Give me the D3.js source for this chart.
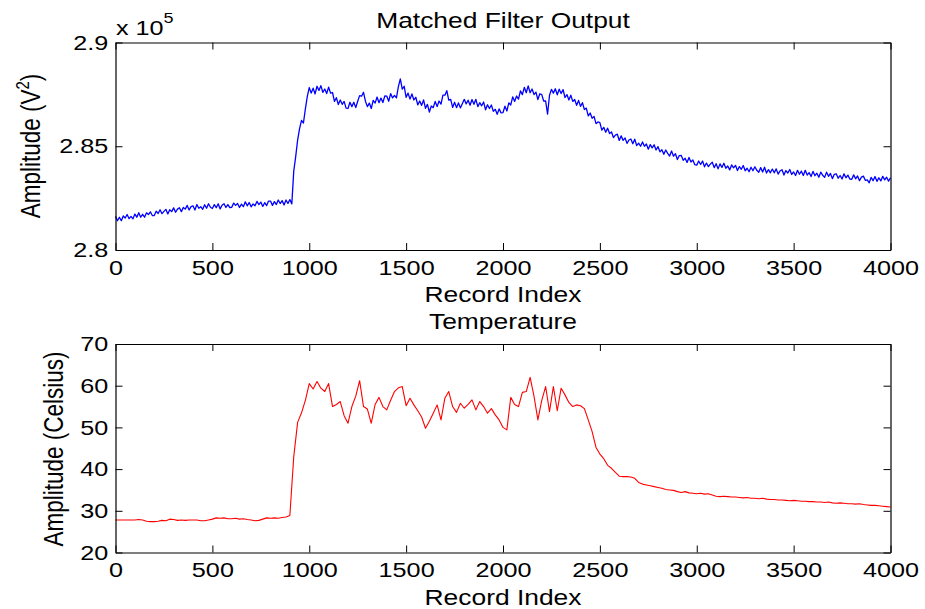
<!DOCTYPE html>
<html>
<head>
<meta charset="utf-8">
<script src="https://cdn.jsdelivr.net/npm/d3@7"></script>
<style>
  body { margin: 0; background: #fff; }
  svg text { font-family: "Liberation Sans", Arial, Helvetica, sans-serif; fill: #000; }
</style>
</head>
<body>
<div id="chart"></div>
<script>
// matched filter output (x 10^5), one value every 10 records
var filterStep = 10;
var filterStart = [
  2.8162, 2.8141, 2.8158, 2.8141, 2.8164, 2.8154, 2.8171, 2.8151, 2.8162, 2.8150, 2.8173, 2.8158, 2.8180, 2.8158, 2.8172, 2.8158, 2.8179, 2.8171, 2.8184, 2.8166,
  2.8166, 2.8187, 2.8176, 2.8194, 2.8175, 2.8186, 2.8196, 2.8174, 2.8194, 2.8185, 2.8203, 2.8182, 2.8197, 2.8204, 2.8185, 2.8205, 2.8197, 2.8215, 2.8193, 2.8209,
  2.8213, 2.8193, 2.8219, 2.8201, 2.8209, 2.8196, 2.8218, 2.8201, 2.8223, 2.8206, 2.8200, 2.8219, 2.8204, 2.8223, 2.8198, 2.8216, 2.8223, 2.8205, 2.8219, 2.8204,
  2.8206, 2.8226, 2.8215, 2.8224, 2.8205, 2.8221, 2.8209, 2.8232, 2.8213, 2.8229, 2.8208, 2.8222, 2.8213, 2.8234, 2.8219, 2.8231, 2.8210, 2.8228, 2.8214, 2.8236,
  2.8236, 2.8215, 2.8233, 2.8219, 2.8241, 2.8224, 2.8238, 2.8217, 2.8241, 2.8224, 2.8243, 2.8222, 2.8380, 2.8450, 2.8530, 2.8585, 2.8625, 2.8612, 2.8680, 2.8740
];
var filterPlateau = [
  2.8783, 2.8756, 2.8780, 2.8752, 2.8789, 2.8769, 2.8792, 2.8760, 2.8776, 2.8754, 2.8785, 2.8756, 2.8759, 2.8716, 2.8734, 2.8701, 2.8723, 2.8702, 2.8716, 2.8684,
  2.8682, 2.8712, 2.8691, 2.8712, 2.8686, 2.8717, 2.8744, 2.8741, 2.8760, 2.8717, 2.8691, 2.8708, 2.8682, 2.8721, 2.8708, 2.8737, 2.8710, 2.8732, 2.8711, 2.8743,
  2.8742, 2.8717, 2.8754, 2.8733, 2.8745, 2.8733, 2.8787, 2.8825, 2.8775, 2.8789, 2.8736, 2.8756, 2.8727, 2.8752, 2.8723, 2.8736, 2.8699, 2.8718, 2.8697, 2.8723,
  2.8683, 2.8702, 2.8665, 2.8694, 2.8686, 2.8716, 2.8691, 2.8718, 2.8703, 2.8746, 2.8746, 2.8768, 2.8722, 2.8726, 2.8687, 2.8712, 2.8686, 2.8709, 2.8685, 2.8705,
  2.8726, 2.8704, 2.8722, 2.8698, 2.8725, 2.8702, 2.8726, 2.8691, 2.8710, 2.8695, 2.8713, 2.8676, 2.8700, 2.8682, 2.8699, 2.8668, 2.8678, 2.8654, 2.8680, 2.8661,
  2.8662, 2.8693, 2.8670, 2.8709, 2.8699, 2.8738, 2.8716, 2.8742, 2.8727, 2.8767, 2.8749, 2.8784, 2.8758, 2.8791, 2.8758, 2.8776, 2.8749, 2.8761, 2.8725, 2.8753,
  2.8749, 2.8718, 2.8718, 2.8655, 2.8746, 2.8774, 2.8756, 2.8777, 2.8748, 2.8775, 2.8754, 2.8773, 2.8735, 2.8749, 2.8723, 2.8746, 2.8716, 2.8725, 2.8697, 2.8721,
  2.8692, 2.8710, 2.8677, 2.8684, 2.8646, 2.8660, 2.8635, 2.8644, 2.8609, 2.8617
];
var filterTail = [
  2.8614, 2.8578, 2.8591, 2.8568, 2.8587, 2.8561, 2.8569, 2.8542, 2.8554, 2.8558,
  2.8528, 2.8550, 2.8528, 2.8540, 2.8514, 2.8530, 2.8535, 2.8512, 2.8534, 2.8503, 2.8515, 2.8500, 2.8521, 2.8500, 2.8511, 2.8486, 2.8508, 2.8492, 2.8507, 2.8482,
  2.8498, 2.8473, 2.8483, 2.8461, 2.8482, 2.8466, 2.8453, 2.8477, 2.8452, 2.8464, 2.8436, 2.8455, 2.8456, 2.8432, 2.8442, 2.8422, 2.8446, 2.8424, 2.8434, 2.8411,
  2.8409, 2.8429, 2.8412, 2.8429, 2.8401, 2.8419, 2.8402, 2.8414, 2.8423, 2.8397, 2.8416, 2.8391, 2.8415, 2.8398, 2.8418, 2.8394, 2.8405, 2.8386, 2.8410, 2.8396,
  2.8408, 2.8383, 2.8402, 2.8389, 2.8407, 2.8382, 2.8394, 2.8377, 2.8399, 2.8382, 2.8401, 2.8384, 2.8375, 2.8397, 2.8376, 2.8399, 2.8371, 2.8387, 2.8372, 2.8390,
  2.8372, 2.8391, 2.8366, 2.8381, 2.8387, 2.8361, 2.8383, 2.8371, 2.8388, 2.8364, 2.8376, 2.8359, 2.8384, 2.8365, 2.8380, 2.8359, 2.8384, 2.8361, 2.8373, 2.8354,
  2.8379, 2.8358, 2.8370, 2.8351, 2.8375, 2.8360, 2.8350, 2.8375, 2.8355, 2.8369, 2.8344, 2.8365, 2.8367, 2.8346, 2.8359, 2.8342, 2.8367, 2.8348, 2.8361, 2.8342,
  2.8341, 2.8362, 2.8343, 2.8357, 2.8334, 2.8351, 2.8356, 2.8336, 2.8338, 2.8324, 2.8350, 2.8334, 2.8354, 2.8331, 2.8348, 2.8333, 2.8355, 2.8338, 2.8351, 2.8332, 2.8348
];

// temperature (Celsius), one value every 20 records
var tempStep = 20;
var tempFirst = [
  27.8, 27.8, 27.8, 27.8, 27.8, 27.8, 27.9, 27.8, 27.5, 27.4,
  27.4, 27.5, 27.7, 27.6, 28.0, 27.9, 27.7, 27.8, 27.7, 27.8,
  27.8, 27.8, 27.6, 27.6, 27.8, 28.0, 28.3, 28.2, 28.3, 28.1,
  28.1, 28.2, 28.0, 28.1, 27.9, 27.8, 27.6, 27.7, 28.0, 28.3,
  28.2, 28.3, 28.2, 28.4, 28.5, 28.9, 43.0, 51.2, 53.5, 56.5,
  60.5, 59.2, 61.0, 59.4, 58.6, 60.5, 55.0, 55.5, 56.2, 52.8,
  51.0, 55.0, 57.5, 61.2, 55.0, 54.4, 51.0, 55.5, 57.2, 55.0,
  54.2, 56.5, 58.6, 59.5, 59.8, 55.2, 57.0, 55.4, 54.0, 52.5,
  49.8, 51.5, 53.4, 55.4, 51.8, 57.0, 58.6, 55.0, 53.6, 55.8,
  54.6, 55.5, 56.6, 54.2, 56.2, 55.0, 53.4, 54.5, 53.0, 51.8
];
var tempSecond = [
  50.0, 49.4, 57.2, 55.5, 55.0, 58.4, 58.6, 62.0, 57.5, 51.8,
  56.5, 59.8, 53.8, 59.8, 54.0, 59.4, 57.8, 56.0, 55.0, 55.4,
  55.2, 54.5, 51.8, 49.0, 45.2, 43.6, 42.5, 40.9, 40.2, 39.2,
  38.3, 38.2, 38.2, 38.1, 37.8, 36.8, 36.4, 36.2, 36.0, 35.8,
  35.6, 35.4, 35.1, 35.0, 34.9, 34.6, 34.4, 34.6, 34.3, 34.2,
  34.1, 34.2, 34.0, 34.1, 33.8, 33.5, 33.4, 33.5, 33.4, 33.3,
  33.3, 33.2, 33.1, 33.2, 33.0, 33.0, 32.9, 33.0, 32.8, 32.7,
  32.7, 32.6, 32.6, 32.5, 32.4, 32.5, 32.4, 32.3, 32.3, 32.2,
  32.2, 32.1, 32.1, 32.0, 32.1, 31.9, 31.8, 31.9, 31.8, 31.7,
  31.7, 31.6, 31.7, 31.5, 31.4, 31.3, 31.3, 31.2, 31.1, 31.0,
  30.9
];

var xTicks = [0, 500, 1000, 1500, 2000, 2500, 3000, 3500, 4000];
var filterTicks = [2.8, 2.85, 2.9];
var tempTicks = [20, 30, 40, 50, 60, 70];

var W = 925, H = 609;
var left = 115.5, right = 890.5;
var stretch = 1.2; // text in the picture is a bit wide

var svg = d3.select('#chart').append('svg')
  .attr('width', W).attr('height', H);
svg.append('rect').attr('width', W).attr('height', H).attr('fill', '#fff');

function label(x, y, str, size, anchor, rot) {
  var t = svg.append('text')
    .attr('transform', 'translate(' + x + ',' + y + ') scale(' + stretch + ',1)' + (rot ? ' rotate(' + rot + ')' : ''))
    .attr('text-anchor', anchor || 'middle')
    .style('font-size', size + 'px');
  t.text(str);
  return t;
}

function panel(opts) {
  var x = d3.scaleLinear().domain([0, 4000]).range([left, right]);
  var y = d3.scaleLinear().domain(opts.yDomain).range([opts.bottom, opts.top]);
  var g = svg.append('g');

  var pts = opts.values.map(function(v, i) { return [i * opts.step, v]; });
  g.append('path')
    .attr('d', d3.line().x(function(d) { return x(d[0]); }).y(function(d) { return y(d[1]); })(pts))
    .attr('fill', 'none')
    .attr('stroke', opts.color)
    .attr('stroke-width', opts.width)
    .attr('stroke-linejoin', 'round');

  var xb = g.append('g').attr('transform', 'translate(0,' + opts.bottom + ')')
    .call(d3.axisBottom(x).tickValues(xTicks).tickSize(-7).tickSizeOuter(0).tickPadding(10).tickFormat(d3.format('d')));
  var xt = g.append('g').attr('transform', 'translate(0,' + opts.top + ')')
    .call(d3.axisTop(x).tickValues(xTicks).tickSize(-7).tickSizeOuter(0).tickFormat(''));
  var yl = g.append('g').attr('transform', 'translate(' + left + ',0)')
    .call(d3.axisLeft(y).tickValues(opts.yTicks).tickSize(-7).tickSizeOuter(0).tickPadding(6).tickFormat(function(d) { return String(d); }));
  var yr = g.append('g').attr('transform', 'translate(' + right + ',0)')
    .call(d3.axisRight(y).tickValues(opts.yTicks).tickSize(-7).tickSizeOuter(0).tickFormat(''));

  [xb, xt, yl, yr].forEach(function(a) {
    a.select('.domain').attr('stroke', '#000').attr('stroke-width', 1.2);
    a.selectAll('.tick line').attr('stroke', '#000').attr('stroke-width', 1);
  });
  xb.selectAll('.tick text').style('font-size', '21px').attr('fill', '#000')
    .attr('transform', 'scale(' + stretch + ',1)');
  yl.selectAll('.tick text').style('font-size', '21px').attr('fill', '#000')
    .attr('transform', 'scale(' + stretch + ',1)');
  g.selectAll('.tick text').style('font-family', '"Liberation Sans", Arial, sans-serif');
}

panel({ values: filterStart.concat(filterPlateau, filterTail), step: filterStep,
        yDomain: [2.8, 2.9], yTicks: filterTicks, top: 42.5, bottom: 250, color: '#0000ff', width: 1.3 });
panel({ values: tempFirst.concat(tempSecond), step: tempStep,
        yDomain: [20, 70], yTicks: tempTicks, top: 344, bottom: 552.5, color: '#ff0000', width: 1.1 });

var mid = (left + right) / 2;
label(mid, 28, 'Matched Filter Output', 22);
label(mid, 302, 'Record Index', 22);
label(mid, 329, 'Temperature', 22);
label(mid, 605, 'Record Index', 22);

// exponent label
var ex = label(116, 35, 'x 10', 21, 'start');
ex.append('tspan').attr('dy', -12).style('font-size', '15px').text('5');

// y labels
var yl1 = label(40, 146, 'Amplitude (V', 22.5, 'middle', -90);
yl1.append('tspan').attr('dy', -9).style('font-size', '15px').text('2');
yl1.append('tspan').attr('dy', 9).text(')');
label(63, 449, 'Amplitude (Celsius)', 22.5, 'middle', -90);
</script>
</body>
</html>
